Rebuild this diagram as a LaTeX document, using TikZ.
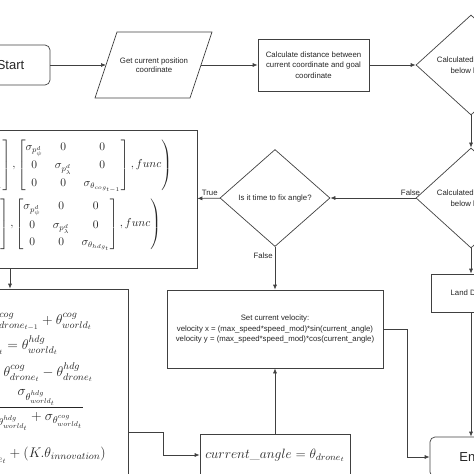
\RequirePackage{fix-cm}
\documentclass[tikz,border=0pt]{standalone}
\usepackage{amsmath}
\usepackage{fontspec}
\newfontfamily\chartfont{Liberation Sans}
\usepackage{tikz}
\usetikzlibrary{shapes.geometric}
\usetikzlibrary{arrows.meta}
\usetikzlibrary{calc}
\tikzstyle{edge} = [draw,line width=0.7pt,black!75,-{Latex[length=5pt,width=4pt]}]
\tikzstyle{undirectededge} = [draw,line width=0.7pt,black!75]
\tikzstyle{procbox} = [draw,line width=0.7pt,black!75,text=black!85,rectangle,inner sep=0pt,align=center,font=\chartfont\fontsize{7.8}{10.5}\selectfont]
\tikzstyle{decision} = [procbox,diamond,minimum width=110pt,minimum height=100pt]
\tikzstyle{termbox} = [procbox,rounded corners=5pt,font=\chartfont\fontsize{13}{15}\selectfont]
\tikzstyle{eqn} = [inner sep=0pt,text=black!85,font=\fontsize{14}{17}\selectfont]
\tikzstyle{edgelabel} = [text=black!85,inner sep=2pt,font=\chartfont\fontsize{7.8}{9}\selectfont]

\begin{document}
\begin{tikzpicture}[x=1pt,y=-1pt]
\useasboundingbox (0,0) rectangle (474,474);

% top row
\node[termbox,minimum width=79pt,minimum height=40pt] (start) at (10.5,65) {Start};
\node[text=black!85,align=center,font=\chartfont\fontsize{7.8}{9.5}\selectfont] (getpos) at (154,65) {Get current position\\coordinate};
\path[undirectededge] (95,98) -- (117,32) -- (212,32) -- (190,98) -- cycle;
\coordinate (getposw) at (106,65);
\coordinate (getpose) at (201,65);
\node[procbox,minimum width=111pt,minimum height=52pt] (dist) at (313.5,65) {Calculate distance between\\current coordinate and goal\\coordinate};
\node[decision] (nearchk) at (471,65) {Calculated distance\\below limit?};

% right column
\node[decision] (landchk) at (471,198) {Calculated distance\\below limit?};
\node[procbox,minimum width=80pt,minimum height=38pt] (land) at (471,293) {Land Drone};
\node[termbox,minimum width=82pt,minimum height=40pt] (finish) at (471,457) {End};

% middle column
\node[decision,minimum height=97pt] (anglechk) at (275,198) {Is it time to fix angle?};
\node[procbox,minimum width=216pt,minimum height=78pt] (velo) at (275,329) {Set current velocity:\\velocity x = (max\_speed*speed\_mod)*sin(current\_angle)\\velocity y = (max\_speed*speed\_mod)*cos(current\_angle)};
\node[procbox,minimum width=150pt,minimum height=42pt,font=\fontsize{13.5}{16}\selectfont] (curangle) at (275,455) {$current\_angle = \theta_{drone_t}$};

% filter boxes
\node[procbox,minimum width=257pt,minimum height=138pt] (upper) at (68.5,199) {};
\node[eqn,anchor=east,font=\fontsize{11.5}{13}\selectfont] (predcog) at (172,165) {\setlength{\arraycolsep}{6pt}\renewcommand{\arraystretch}{1.35}$\left(\begin{bmatrix} p^{d}_{\psi}\\ p^{d}_{\lambda}\\ \theta_{cog_{t-1}} \end{bmatrix}, \begin{bmatrix} \sigma_{p^{d}_{\psi}} & 0 & 0\\ 0 & \sigma_{p^{d}_{\lambda}} & 0\\ 0 & 0 & \sigma_{\theta_{cog_{t-1}}} \end{bmatrix}, func\right)$};
\node[eqn,anchor=east,font=\fontsize{11.5}{13}\selectfont] (predhdg) at (161,224) {\setlength{\arraycolsep}{6pt}\renewcommand{\arraystretch}{1.35}$\left(\begin{bmatrix} p^{d}_{\psi}\\ p^{d}_{\lambda}\\ \theta_{hdg_t} \end{bmatrix}, \begin{bmatrix} \sigma_{p^{d}_{\psi}} & 0 & 0\\ 0 & \sigma_{p^{d}_{\lambda}} & 0\\ 0 & 0 & \sigma_{\theta_{hdg_t}} \end{bmatrix}, func\right)$};

\node[procbox,minimum width=236pt,minimum height=211pt] (lower) at (10,394.5) {};
\node[eqn,anchor=east] (eqcog) at (92,322) {$\theta^{cog}_{drone_t} = \theta^{cog}_{drone_{t-1}} + \theta^{cog}_{world_t}$};
\node[eqn,anchor=east] (eqhdg) at (58,345) {$\theta^{hdg}_{drone_t} = \theta^{hdg}_{world_t}$};
\node[eqn,anchor=east] (eqinno) at (93,372) {$\theta_{innovation} = \theta^{cog}_{drone_t} - \theta^{hdg}_{drone_t}$};
\node[eqn,anchor=east] (eqgain) at (84,410) {$K = \dfrac{\sigma_{\theta^{hdg}_{world_t}}}{\sigma_{\theta^{hdg}_{world_t}} + \sigma_{\theta^{cog}_{world_t}}}$};
\node[eqn,anchor=east] (equpd) at (106,455) {$\theta_{drone_t} = \theta^{cog}_{drone_t} + (K.\theta_{innovation})$};
\coordinate (lowout) at ($(lower.north east)+(0,144)$);

% connectors
\draw[edge] (start) -- (getposw);
\draw[edge] (getpose) -- (dist);
\draw[edge] (dist) -- (nearchk);
\draw[edge] (nearchk) -- (landchk);
\draw[edge] (landchk) -- (land);
\draw[edge] (land) -- (finish);
\draw[edge] (landchk) -- node[edgelabel,above,pos=0.06] {False} (anglechk);
\draw[edge] (anglechk) -- node[edgelabel,above,pos=0.45] {True} (upper);
\draw[edge] (anglechk) -- node[edgelabel,left,pos=0.2] {False} (velo);
\draw[edge] (curangle) -- (velo);
\draw[edge] (velo.east) -- ++(24,0) |- (finish.west);
\draw[edge] (upper.south -| lower.north) -- (lower.north);
\draw[edge] (lowout) -- ++(35,0) |- (curangle.west);

\end{tikzpicture}
\end{document}
